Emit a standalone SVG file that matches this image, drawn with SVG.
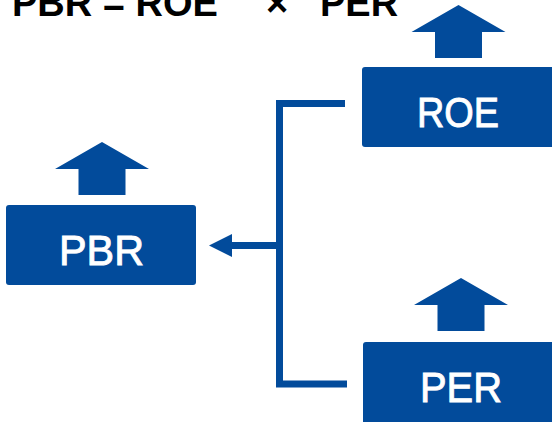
<svg xmlns="http://www.w3.org/2000/svg" width="552" height="422" viewBox="0 0 552 422">
  <style>
    .box { fill: #024b9b; }
    .up { fill: #024b9b; }
    .label { font-family: "Liberation Sans", Arial, sans-serif; font-size: 42px; fill: #ffffff; stroke: #ffffff; stroke-width: 0.9; }
    .formula { font-family: "Liberation Sans", Arial, sans-serif; font-size: 38px; font-weight: bold; fill: #000000; }
    .link { fill: none; stroke: #024b9b; stroke-width: 7; stroke-linejoin: miter; }
  </style>
  <defs>
    <marker id="head" markerUnits="userSpaceOnUse" markerWidth="23" markerHeight="23" refX="0" refY="11.5" orient="auto" viewBox="0 0 23 23">
      <path d="M0,0 L23,11.5 L0,23 Z" fill="#024b9b"/>
    </marker>
    <!-- block "up" arrow, drawn with apex at origin -->
    <path id="upArrow" d="M0,0 L47,27 L23.5,27 L23.5,53 L-23.5,53 L-23.5,27 L-47,27 Z"/>
  </defs>
  <rect width="552" height="422" fill="#ffffff"/>

  <!-- formula heading -->
  <g id="formula">
    <text class="formula" x="12" y="16">PBR = ROE</text>
    <text class="formula" x="277" y="16" text-anchor="middle">×</text>
    <text class="formula" x="320" y="16">PER</text>
  </g>

  <!-- connectors -->
  <g id="connectors">
    <path class="link" d="M345,103.5 H279.5 V384 H347"/>
    <path class="link" d="M279.5,245.5 H232" marker-end="url(#head)"/>
  </g>

  <g id="node-pbr">
    <use href="#upArrow" class="up" x="102" y="142"/>
    <rect class="box" x="6" y="205" width="190" height="80" rx="3"/>
    <text class="label" x="59" y="265" textLength="85" lengthAdjust="spacingAndGlyphs">PBR</text>
  </g>

  <g id="node-roe">
    <use href="#upArrow" class="up" x="458.5" y="5"/>
    <rect class="box" x="362" y="67" width="194" height="80" rx="3"/>
    <text class="label" x="417" y="127" textLength="82" lengthAdjust="spacingAndGlyphs">ROE</text>
  </g>

  <g id="node-per">
    <use href="#upArrow" class="up" x="461" y="278"/>
    <rect class="box" x="363" y="342" width="194" height="84" rx="3"/>
    <text class="label" x="420" y="402" textLength="82" lengthAdjust="spacingAndGlyphs">PER</text>
  </g>
</svg>
